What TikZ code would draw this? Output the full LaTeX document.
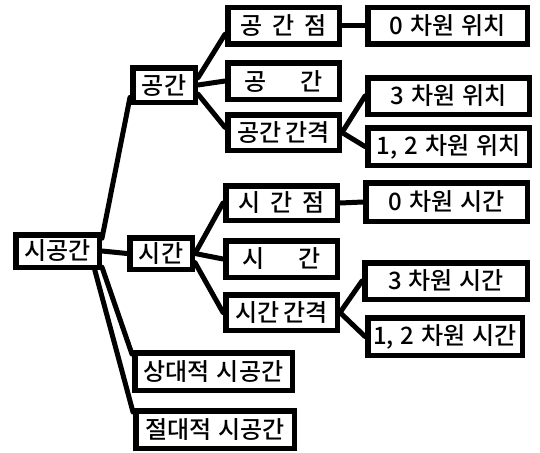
\documentclass[tikz,border=0pt]{standalone}
\usepackage{fontspec}
\setmainfont{Noto Sans CJK KR}[BoldFont={Noto Sans CJK KR Medium}]
\newcommand\kgap{\hspace{7pt}}
\newcommand\kwide{\hspace{10pt}}
\begin{document}
\begin{tikzpicture}[x=1pt,y=-1pt,
  box/.style={draw=black,line width=5.5pt,fill=white,inner sep=0pt,
    font=\fontsize{24}{28}\selectfont\bfseries},
  link/.style={line width=5pt,line cap=round}]
\useasboundingbox (0,0) rectangle (540,452);
% nodes
\node[box,minimum width=83.5pt,minimum height=32.5pt] (root) at (57.5,251) {시공간};
\node[box,minimum width=62.5pt,minimum height=34.5pt] (gong) at (164,85) {공간};
\node[box,minimum width=62.5pt,minimum height=31.5pt] (sigan) at (161,253.5) {시간};
\node[box,minimum width=157.5pt,minimum height=37.5pt] (sangdae) at (213.5,371.5) {상대적\kgap 시공간};
\node[box,minimum width=158.5pt,minimum height=37.5pt] (jeoldae) at (215,429.5) {절대적\kgap 시공간};
\node[box,minimum width=111.5pt,minimum height=36.5pt] (gjeom) at (283.5,26) {공\kwide 간\kwide 점};
\node[box,minimum width=111.5pt,minimum height=36.5pt] (gg) at (283.5,81) {공\hspace{34pt}간};
\node[box,minimum width=111.5pt,minimum height=35.5pt] (ggap) at (283.5,132.5) {공간\hspace{4pt}간격};
\node[box,minimum width=159.5pt,minimum height=36.5pt] (p0) at (447.5,26) {0\kgap 차원\kgap 위치};
\node[box,minimum width=161.5pt,minimum height=36.5pt] (p3) at (448.5,96) {3\kgap 차원\kgap 위치};
\node[box,minimum width=161.5pt,minimum height=37.5pt] (p12) at (448.5,146.5) {1,\kgap 2\kgap 차원\kgap 위치};
\node[box,minimum width=111.5pt,minimum height=34.5pt] (sjeom) at (281.5,203) {시\kwide 간\kwide 점};
\node[box,minimum width=111.5pt,minimum height=36.5pt] (sg) at (281.5,259) {시\hspace{34pt}간};
\node[box,minimum width=111.5pt,minimum height=35.5pt] (sgap) at (281.5,312.5) {시간\hspace{4pt}간격};
\node[box,minimum width=161.5pt,minimum height=38.5pt] (t0) at (446.5,202) {0\kgap 차원\kgap 시간};
\node[box,minimum width=162.5pt,minimum height=36.5pt] (t3) at (446,281) {3\kgap 차원\kgap 시간};
\node[box,minimum width=154.5pt,minimum height=37.5pt] (t12) at (445,336.5) {1,\kgap 2\kgap 차원\kgap 시간};
% connectors
\draw[link] (root.16) -- (gong.200);
\draw[link] (root.east) -- (sigan.west);
\draw[link] (root.-20) -- (sangdae.168);
\draw[link] (root.-27) -- (jeoldae.168);
\draw[link] (gong.12) -- (gjeom.188);
\draw[link] (gong.east) -- (gg.west);
\draw[link] (gong.-15) -- (ggap.175);
\draw[link] (gjeom.east) -- (p0.west);
\draw[link] (ggap.east) -- (p3.west);
\draw[link] (ggap.east) -- (p12.west);
\draw[link] (sigan.east) -- (sjeom.west);
\draw[link] (sigan.east) -- (sg.west);
\draw[link] (sigan.-15) -- (sgap.west);
\draw[link] (sjeom.east) -- (t0.west);
\draw[link] (sgap.east) -- (t3.west);
\draw[link] (sgap.east) -- (t12.west);
\end{tikzpicture}
\end{document}
